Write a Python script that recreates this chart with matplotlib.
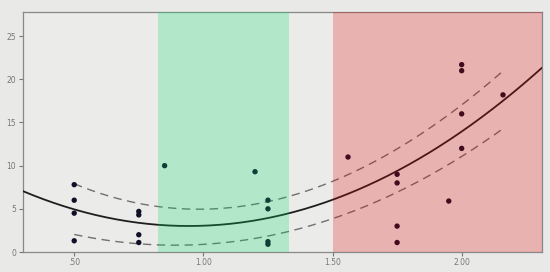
import matplotlib
matplotlib.use('Agg')
import matplotlib.pyplot as plt
import numpy as np

# scatter data
x_vals = [0.50, 0.50, 0.50, 0.50, 0.75, 0.75, 0.75, 0.75, 0.85, 1.20,
          1.25, 1.25, 1.25, 1.25, 1.56, 1.75, 1.75, 1.75, 1.75, 1.95,
          2.00, 2.00, 2.00, 2.00, 2.16]
y_vals = [7.8, 6.0, 4.5, 1.3, 4.7, 4.3, 2.0, 1.1, 10.0, 9.3,
          6.0, 5.0, 1.2, 0.9, 11.0, 9.0, 8.0, 3.0, 1.1, 5.9,
          21.7, 21.0, 16.0, 12.0, 18.2]

# fit line and its confidence band
fit_x = [0.30, 0.50, 0.75, 1.00, 1.25, 1.50, 1.75, 2.00, 2.30]
fit_y = [7.0, 5.0, 3.4, 3.1, 3.9, 6.1, 9.1, 14.2, 21.0]
band_x = [0.50, 0.75, 1.00, 1.25, 1.50, 1.75, 2.00, 2.16]
band_upper = [7.85, 5.7, 5.05, 5.8, 8.0, 11.9, 17.4, 20.75]
band_lower = [1.97, 1.08, 0.9, 1.7, 3.9, 6.9, 11.2, 14.2]

x_ticks = [0.5, 1.0, 1.5, 2.0]
x_tick_labels = ['.50', '1.00', '1.50', '2.00']
y_ticks = [0, 5, 10, 15, 20, 25]

green_band = (0.823, 1.333)
red_band = (1.50, 2.40)

fit_coef = np.polyfit(fit_x, fit_y, 2)
up_coef = np.polyfit(band_x, band_upper, 3)
lo_coef = np.polyfit(band_x, band_lower, 3)

xs_full = np.linspace(0.30, 2.31, 200)
xs_band = np.linspace(min(band_x), max(band_x), 200)

bg = '#e9e9e7'
fig = plt.figure(figsize=(5.5, 2.72), dpi=100, facecolor=bg)
ax = fig.add_axes([0.041, 0.0735, 0.944, 0.8825])
ax.set_facecolor('#ebebe9')

ax.plot(xs_full, np.polyval(fit_coef, xs_full), color='#1e1e1e', lw=1.3, zorder=3)
ax.plot(xs_band, np.polyval(up_coef, xs_band), color='#707070', lw=1.0, dashes=(6, 4), zorder=3)
ax.plot(xs_band, np.polyval(lo_coef, xs_band), color='#707070', lw=1.0, dashes=(6, 4), zorder=3)
ax.scatter(x_vals, y_vals, s=15, color='#101028', edgecolors='none', zorder=4)

# translucent bands on top of the data
ax.axvspan(*green_band, color=(0.0, 0.86, 0.40), alpha=0.24, lw=0, zorder=5)
ax.axvspan(*red_band, color=(0.88, 0.0, 0.0), alpha=0.24, lw=0, zorder=5)

ax.set_xlim(0.30, 2.31)
ax.set_ylim(0, 27.8)
ax.set_xticks(x_ticks)
ax.set_xticklabels(x_tick_labels)
ax.set_yticks(y_ticks)
ax.tick_params(colors='#777777', labelsize=5.5, length=3, width=0.8, pad=1.5)
for sp in ax.spines.values():
    sp.set_color('#888888')
    sp.set_linewidth(0.9)

fig.savefig('out.png', dpi=100, facecolor=bg)
